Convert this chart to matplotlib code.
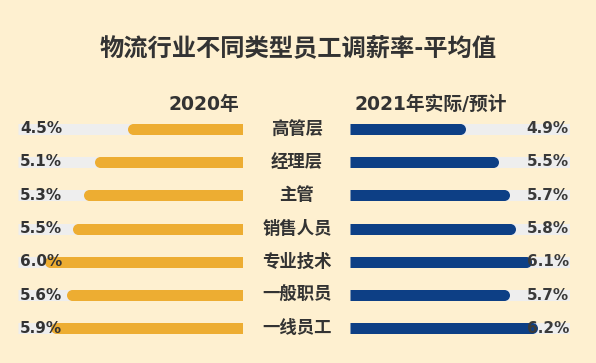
import matplotlib
matplotlib.use("Agg")
import matplotlib.pyplot as plt
import numpy as np

plt.rcParams['font.family'] = ['Noto Sans CJK SC', 'DejaVu Sans']

title = "物流行业不同类型员工调薪率-平均值"
header_left = "2020年"
header_right = "2021年实际/预计"
categories = ["高管层", "经理层", "主管", "销售人员", "专业技术", "一般职员", "一线员工"]
values_2020 = [4.5, 5.1, 5.3, 5.5, 6.0, 5.6, 5.9]
values_2021 = [4.9, 5.5, 5.7, 5.8, 6.1, 5.7, 6.2]
labels_2020 = ["4.5%", "5.1%", "5.3%", "5.5%", "6.0%", "5.6%", "5.9%"]
labels_2021 = ["4.9%", "5.5%", "5.7%", "5.8%", "6.1%", "5.7%", "6.2%"]

BG = "#FEF0D0"
ORANGE = "#EDAD32"
NAVY = "#0D3F85"
TRACK = "#EEEEEE"
TEXT = "#333333"

W, H = 596, 363
fig = plt.figure(figsize=(W / 100, H / 100), dpi=100)
fig.patch.set_facecolor(BG)

LEFT_RANGE = (2.4, 6.49)
RIGHT_RANGE = (2.8, 6.8)
BAR_PX = 11
LW = BAR_PX * 72 / 100  # points

top_px, bot_px = 112, 345
ax_b = (H - bot_px) / H
ax_h = (bot_px - top_px) / H
axL = fig.add_axes([18 / W, ax_b, 225 / W, ax_h])
axR = fig.add_axes([350 / W, ax_b, 220 / W, ax_h])

n = len(categories)
ys = np.arange(n)


def draw_side(ax, vals, color, rng, inverted):
    lo, hi = rng
    ax.set_xlim(hi, lo) if inverted else ax.set_xlim(lo, hi)
    ax.set_ylim(n - 0.5, -0.5)
    ax.set_axis_off()
    ax.patch.set_alpha(0)
    px_per_unit = ax.get_window_extent().width / (hi - lo)
    r = (BAR_PX / 2) / px_per_unit
    for y, v in zip(ys, vals):
        ax.plot([lo, hi], [y, y], color=TRACK, lw=LW, solid_capstyle='butt', zorder=1)
        end = v - r
        ax.plot([lo, end], [y, y], color=color, lw=LW, solid_capstyle='butt', zorder=2)
        ax.plot([end], [y], marker='o', markersize=LW, color=color,
                markeredgewidth=0, zorder=2)


draw_side(axL, values_2020, ORANGE, LEFT_RANGE, True)
draw_side(axR, values_2021, NAVY, RIGHT_RANGE, False)

for y, lab in zip(ys, labels_2020):
    axL.text(0.01, y, lab, transform=axL.get_yaxis_transform(), ha='left', va='center',
             fontsize=11, fontweight='bold', color=TEXT, family=['DejaVu Sans'], zorder=5)
for y, lab in zip(ys, labels_2021):
    axR.text(0.995, y, lab, transform=axR.get_yaxis_transform(), ha='right', va='center',
             fontsize=11, fontweight='bold', color="#3a3a3a", family=['DejaVu Sans'], zorder=5)

# category labels centered between the two panels
for i, cat in enumerate(categories):
    ypx = top_px + (i + 0.5) * (bot_px - top_px) / n
    fig.text(297 / W, 1 - ypx / H, cat, ha='center', va='center', fontsize=12.5,
             fontweight='bold', color=TEXT)

fig.text(298 / W, 1 - 48 / H, title, ha='center', va='center', fontsize=17.5,
         fontweight='bold', color=TEXT)
fig.text(204 / W, 1 - 104 / H, header_left, ha='center', va='center', fontsize=13.5,
         fontweight='bold', color=TEXT, family=['DejaVu Sans', 'Noto Sans CJK SC'])
fig.text(431 / W, 1 - 104 / H, header_right, ha='center', va='center', fontsize=13.5,
         fontweight='bold', color=TEXT, family=['DejaVu Sans', 'Noto Sans CJK SC'])

fig.savefig("out.png", dpi=100, facecolor=BG)
